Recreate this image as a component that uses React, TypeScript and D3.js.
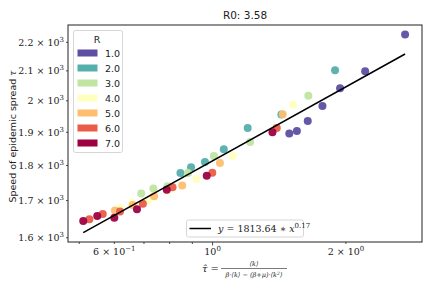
import React from "react";
import * as d3 from "d3";

// R groups and their colours (Spectral_r)
const rLabels = ["1.0", "2.0", "3.0", "4.0", "5.0", "6.0", "7.0"];
const rColors = ["#5e4fa2", "#55afad", "#bfe5a0", "#ffffbf", "#fdbf6f", "#e95c47", "#9e0142"];

// tau-hat per R group
const tauByR = [
  [2.72, 2.21, 1.94, 1.77, 1.64, 1.55, 1.49],
  [1.89, 1.43, 1.2, 1.06, 0.961, 0.894, 0.846],
  [1.645, 1.215, 1.007, 0.88, 0.791, 0.735, 0.69],
  [1.52, 1.11, 0.92, 0.793, 0.715, 0.658, 0.62],
  [1.44, 1.039, 0.854, 0.738, 0.66, 0.602],
  [1.396, 0.9985, 0.812, 0.696, 0.618, 0.565, 0.527],
  [1.365, 0.97, 0.788, 0.675, 0.6, 0.549, 0.5105],
];
// speed of epidemic spread per R group
const speedByR = [
  [2228, 2099, 2041, 1983, 1935, 1904, 1896],
  [2102, 1956, 1913, 1848, 1810, 1795, 1778],
  [2017, 1870, 1828, 1778, 1740, 1734, 1720],
  [1987, 1829, 1761, 1727, 1700, 1694, 1680],
  [1957, 1807, 1742, 1712, 1688, 1673],
  [1913, 1779, 1737, 1691, 1670, 1663, 1649],
  [1900, 1770, 1730, 1676, 1653, 1658, 1644],
];

// power-law fit y = a * x^b
const fitA = 1813.64;
const fitB = 0.174;
const fitLabel = "0.17";

const yTicks = [1600, 1700, 1800, 1900, 2000, 2100, 2200];
const yTickMant = ["1.6", "1.7", "1.8", "1.9", "2", "2.1", "2.2"];
const xMinorTicks = [0.5, 0.6, 0.7, 0.8, 0.9, 2];
const xLabelTicks = [
  { v: 0.6, m: "6 × 10", e: "−1" },
  { v: 1, m: "10", e: "0" },
  { v: 2, m: "2 × 10", e: "0" },
];

const W = 432;
const H = 288;
const margin = { top: 25, right: 10, bottom: 46, left: 68 };

export default function App() {
  const x = d3.scaleLog().domain([0.4716, 2.97]).range([margin.left, W - margin.right]);
  const y = d3.scaleLog().domain([1589, 2263]).range([H - margin.bottom, margin.top]);
  const x0 = margin.left, x1 = W - margin.right, y0 = H - margin.bottom, y1 = margin.top;

  const allTau = tauByR.flat();
  const [tMin, tMax] = d3.extent(allTau) as [number, number];
  const fitPts = [tMin, tMax].map((t) => [t, fitA * Math.pow(t, fitB)] as [number, number]);
  const line = d3.line<[number, number]>().x((d) => x(d[0])).y((d) => y(d[1]));

  const serif = "'DejaVu Serif', serif";
  const sans = "'DejaVu Sans', sans-serif";

  return (
    <svg width={W} height={H} style={{ position: "absolute", left: 0, top: 0 }}>
      <rect width={W} height={H} fill="#fff" />
      {/* points */}
      {tauByR.map((ts, g) =>
        ts.map((t, i) => (
          <circle key={`${g}-${i}`} cx={x(t)} cy={y(speedByR[g][i])} r={4} fill={rColors[g]} opacity={0.95} />
        ))
      )}
      <path d={line(fitPts) || ""} stroke="#000" strokeWidth={1.5} fill="none" />

      {/* spines */}
      <rect x={x0} y={y1} width={x1 - x0} height={y0 - y1} fill="none" stroke="#222" strokeWidth={1} />

      {/* y ticks */}
      {yTicks.map((v, i) => (
        <g key={v}>
          <line x1={x0 - 2} x2={x0} y1={y(v)} y2={y(v)} stroke="#222" strokeWidth={0.8} />
          <text x={x0 - 4} y={y(v) + 3.5} textAnchor="end" fontFamily={serif} fontSize={9.5} fill="#222">
            {yTickMant[i]} × 10<tspan dy={-4} fontSize={7}>3</tspan>
          </text>
        </g>
      ))}

      {/* x ticks */}
      {xMinorTicks.map((v) => (
        <line key={v} x1={x(v)} x2={x(v)} y1={y0} y2={y0 + 2} stroke="#222" strokeWidth={0.8} />
      ))}
      <line x1={x(1)} x2={x(1)} y1={y0} y2={y0 + 3.5} stroke="#222" strokeWidth={0.8} />
      {xLabelTicks.map((t) => (
        <text key={t.v} x={x(t.v)} y={y0 + 13} textAnchor="middle" fontFamily={serif} fontSize={9.5} fill="#222">
          {t.m}<tspan dy={-4} fontSize={7}>{t.e}</tspan>
        </text>
      ))}

      {/* title */}
      <text x={(x0 + x1) / 2} y={19} textAnchor="middle" fontFamily={sans} fontSize={10.5} fill="#222">
        R0: 3.58
      </text>

      {/* y label */}
      <text
        transform={`translate(16,${(y0 + y1) / 2 + 3}) rotate(-90)`}
        textAnchor="middle"
        fontFamily={sans}
        fontSize={9.5}
        fill="#222"
      >
        Speed of epidemic spread <tspan fontFamily={serif} fontStyle="italic">τ</tspan>
      </text>

      {/* x label */}
      <g fontFamily={serif} fill="#222">
        <text x={219} y={272} textAnchor="end" fontSize={10} fontStyle="italic">τ̂ =</text>
        <text x={254} y={265.5} textAnchor="middle" fontSize={6.5} fontStyle="italic">⟨k⟩</text>
        <line x1={221} x2={287} y1={268.5} y2={268.5} stroke="#222" strokeWidth={0.6} />
        <text x={254} y={276.5} textAnchor="middle" fontSize={6.5} fontStyle="italic">
          β·⟨k⟩ − (β+μ)·⟨k<tspan dy={-2} fontSize={4.5}>2</tspan><tspan dy={2}>⟩</tspan>
        </text>
      </g>

      {/* R legend */}
      <rect x={73.5} y={30.5} width={49} height={122} rx={2} fill="#fff" fillOpacity={0.8} stroke="#ccc" strokeWidth={0.8} />
      <text x={97} y={43} textAnchor="middle" fontFamily={sans} fontSize={9.5} fill="#222">R</text>
      {rLabels.map((lab, i) => (
        <g key={lab}>
          <rect x={77.5} y={49.5 + i * 15} width={20} height={7} fill={rColors[i]} />
          <text x={105} y={56.5 + i * 15} fontFamily={sans} fontSize={9.5} fill="#222">{lab}</text>
        </g>
      ))}

      {/* fit legend */}
      <rect x={186.5} y={220} width={117} height={17} rx={2} fill="#fff" fillOpacity={0.8} stroke="#ccc" strokeWidth={0.8} />
      <line x1={189.5} x2={211} y1={228.5} y2={228.5} stroke="#000" strokeWidth={1.5} />
      <text x={218} y={232} fontFamily={serif} fontSize={9.5} fill="#222">
        <tspan fontStyle="italic">y</tspan> = {fitA} ∗ <tspan fontStyle="italic">x</tspan>
        <tspan dy={-4} fontSize={7}>{fitLabel}</tspan>
      </text>
    </svg>
  );
}
